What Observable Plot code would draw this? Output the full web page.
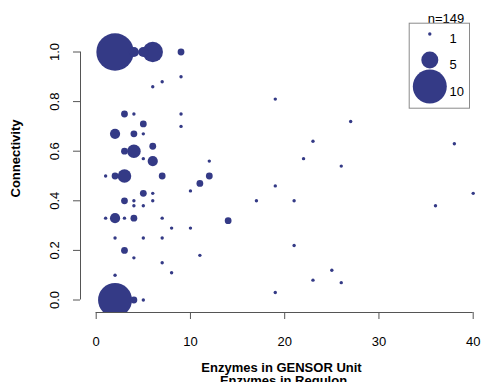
<!DOCTYPE html>
<html><head><meta charset="utf-8">
<script src="https://cdn.jsdelivr.net/npm/d3@7"></script>
<script src="https://cdn.jsdelivr.net/npm/@observablehq/plot@0.6"></script>
<style>body{margin:0;background:#fff} svg{display:block}</style>
</head><body><div id="chart"></div>
<script>
// Data (x = enzymes, y = connectivity, n = number of units at that point)
const enzymes = [2,4,5,6,9, 9,7,6,19, 3,4,9, 5,9,27, 2,4,5, 23,38, 6,3,4, 5,6,12,22,26,
  1,2,3,7,12, 11,10,19,40, 5,6, 3,4,6,17,21, 4,5,36, 1,2,3,4,7, 14, 8,10, 2,5,7,
  21,3,11,4,7, 25,8,2,23,26,19, 2,4,5];
const connectivity = [1.0,1.0,1.0,1.0,1.0, 0.90,0.88,0.86,0.81, 0.75,0.75,0.75, 0.71,0.70,0.72, 0.67,0.67,0.67, 0.64,0.63, 0.62,0.60,0.60, 0.57,0.56,0.56,0.57,0.54,
  0.50,0.50,0.50,0.50,0.50, 0.47,0.44,0.46,0.43, 0.43,0.43, 0.40,0.40,0.40,0.40,0.40, 0.38,0.38,0.38, 0.33,0.33,0.33,0.33,0.33, 0.32, 0.29,0.29, 0.25,0.25,0.25,
  0.22,0.20,0.18,0.17,0.15, 0.12,0.11,0.10,0.08,0.07,0.03, 0.0,0.0,0.0];
const counts = [11,3,3,6,2, 1,1,1,1, 2,1,1, 2,1,1, 3,2,1, 1,1, 2,2,4, 1,3,1,1,1,
  1,2,4,2,2, 2,1,1,1, 2,1, 2,1,1,1,1, 1,1,1, 1,3,1,2,1, 2, 1,1, 1,1,1,
  1,2,1,1,1, 1,1,1,1,1,1, 10,2,1];
const xTicks = [0, 10, 20, 30, 40];
const yTicks = [0, 0.2, 0.4, 0.6, 0.8, 1.0];
const legendSizes = [1, 5, 10];
const totalLabel = "n=149";
const xTitle = "Enzymes in GENSOR Unit";
const xTitle2 = "Enzymes in Regulon";
const yTitle = "Connectivity";

const data = enzymes.map((x, i) => ({x, y: connectivity[i], n: counts[i]}));

const W = 482, H = 382;
const marginLeft = 80, marginBottom = 70, marginTop = 0, marginRight = 0;
const xRange = [95.7, 472.7];
const yRange = [299.5, 51.5];
const col = "#343a86";
const axisCol = "#555";
const font = "'Liberation Sans', Arial, Helvetica, sans-serif";
const fs = 13;
const frameBottom = H - marginBottom;
const legendDx = 429.3 - W;
const legendRows = [33.5, 59.5, 86];

const marks = [
  Plot.dot(data, {x: "x", y: "y", r: "n", fill: col, stroke: "none", clip: "frame"}),
  Plot.ruleY([0], {x1: xTicks[0], x2: xTicks[xTicks.length - 1], dy: frameBottom - yRange[0], stroke: axisCol}),
  Plot.ruleX([0], {y1: yTicks[0], y2: yTicks[yTicks.length - 1], dx: marginLeft - xRange[0], stroke: axisCol}),
  Plot.axisX({ticks: xTicks, tickSize: 7, tickPadding: 17, tickFormat: d => String(d), label: null, stroke: axisCol, fill: "#000", fontSize: fs}),
  Plot.axisY({ticks: yTicks, tickSize: 7, tickPadding: 15, tickRotate: -90, tickFormat: d3.format(".1f"), label: null, stroke: axisCol, fill: "#000", fontSize: fs}),
  Plot.text([xTitle], {text: d => d, frameAnchor: "bottom", dy: 55, fontWeight: "bold", fontSize: fs, lineAnchor: "middle", textAnchor: "middle"}),
  Plot.text([xTitle2], {text: d => d, frameAnchor: "bottom", dy: 68, dx: 2, fontWeight: "bold", fontSize: fs, lineAnchor: "middle", textAnchor: "middle"}),
  Plot.text([yTitle], {text: d => d, frameAnchor: "left", rotate: -90, dx: 15 - marginLeft, dy: 2, fontWeight: "bold", fontSize: fs, textAnchor: "middle"}),
  Plot.text([totalLabel], {text: d => d, frameAnchor: "top-right", dx: -36.5, dy: 13.5, fontSize: fs, textAnchor: "middle"}),
  Plot.frame({stroke: "#8a8a8a", insetLeft: 408.7 - marginLeft, insetRight: W - 469, insetTop: 22.7, insetBottom: frameBottom - 107.7})
];
legendSizes.forEach((s, i) => {
  marks.push(Plot.dot([s], {r: d => d, frameAnchor: "top-right", dx: legendDx, dy: legendRows[i], fill: col, stroke: "none"}));
  marks.push(Plot.text([String(s)], {text: d => d, frameAnchor: "top-right", dx: 449 - W, dy: legendRows[i], textAnchor: "start", fontSize: fs}));
});

const chart = Plot.plot({
  width: W, height: H,
  marginLeft, marginRight, marginTop, marginBottom,
  style: {fontFamily: font, fontSize: fs + "px", background: "#fff", color: "#000", overflow: "hidden"},
  x: {domain: [0, 40], range: xRange},
  y: {domain: [0, 1], range: yRange},
  r: {type: "linear", domain: [0, 10], range: [0, 17]},
  marks
});
document.getElementById("chart").append(chart);
</script>
</body></html>
